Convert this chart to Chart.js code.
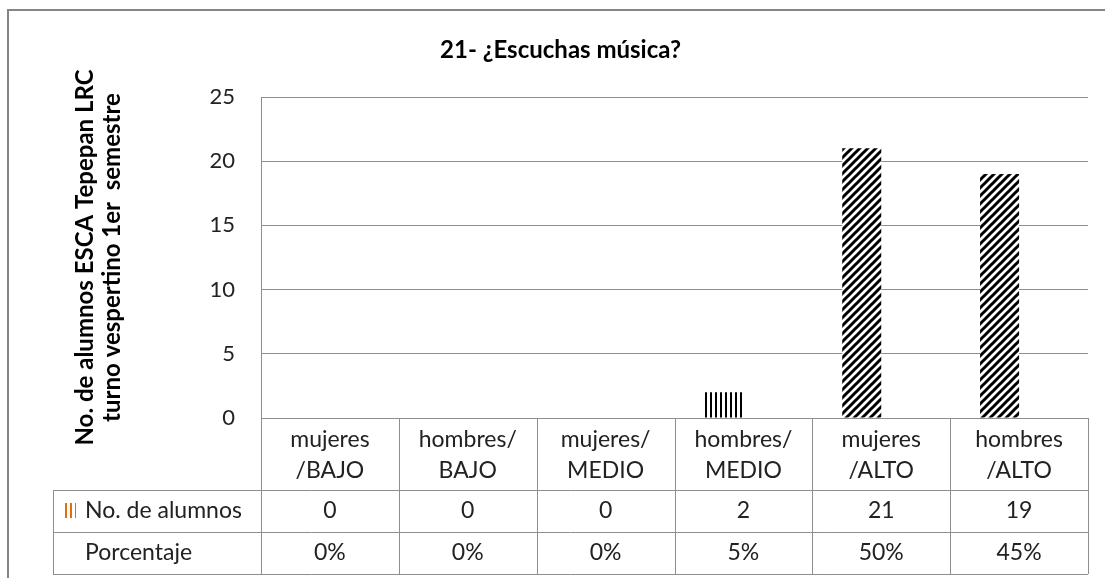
<!DOCTYPE html>
<html lang="es">
<head>
<meta charset="utf-8">
<title>21- ¿Escuchas música?</title>
<script src="https://cdn.jsdelivr.net/npm/chart.js@4.4.1/dist/chart.umd.min.js"></script>
<style>
  html, body { margin: 0; padding: 0; background: #fff; }
  #wrap { width: 1105px; height: 578px; }
</style>
</head>
<body>
<div id="wrap"><canvas id="chart" width="1105" height="578"></canvas></div>
<script>
// ─── Data ─────────────────────────────────────────────────────────────────────
const categories = [['mujeres', '/BAJO'], ['hombres/', 'BAJO'], ['mujeres/', 'MEDIO'], ['hombres/', 'MEDIO'], ['mujeres', '/ALTO'], ['hombres', '/ALTO']];
const alumnos = [0, 0, 0, 2, 21, 19];
const porcentaje = [0, 0, 0, 5, 50, 45];
const yTicks = [0, 5, 10, 15, 20, 25];
const chartTitle = '21- ¿Escuchas música?';
const axisTitle = ['No. de alumnos ESCA Tepepan LRC', 'turno vespertino 1er  semestre'];
const rowLabels = ['No. de alumnos', 'Porcentaje'];

// ─── Styles ───────────────────────────────────────────────────────────────────
const FONT = 'Lato, "Open Sans", sans-serif';
const TEXT = '#222';
const GRID = '#8e8e8e';
const barPatterns = ['vertical', 'vertical', 'vertical', 'vertical', 'diagonal', 'diagonal'];

function makePattern(kind, color) {
    const c = document.createElement('canvas');
    const g = c.getContext('2d');
    if (kind === 'vertical') {
        c.width = 5; c.height = 5;
        g.fillStyle = '#fff'; g.fillRect(0, 0, 5, 5);
        g.fillStyle = color; g.fillRect(0, 0, 2, 5);
    } else {
        c.width = 8; c.height = 8;
        g.fillStyle = '#fff'; g.fillRect(0, 0, 8, 8);
        g.strokeStyle = color; g.lineWidth = 3;
        g.beginPath();
        g.moveTo(-2, 10); g.lineTo(10, -2);
        g.moveTo(-2, 2); g.lineTo(2, -2);
        g.moveTo(6, 10); g.lineTo(10, 6);
        g.stroke();
    }
    return g.createPattern(c, 'repeat');
}

// ─── Plugins ──────────────────────────────────────────────────────────────────
const frame = {
    id: 'frame',
    beforeDraw(chart) {
        const { ctx } = chart;
        ctx.save();
        ctx.strokeStyle = '#858585';
        ctx.lineWidth = 2;
        ctx.beginPath();
        ctx.moveTo(8, chart.height);
        ctx.lineTo(8, 10);
        ctx.lineTo(chart.width, 10);
        ctx.stroke();
        ctx.restore();
    }
};

const dataTable = {
    id: 'dataTable',
    afterDraw(chart) {
        const { ctx, chartArea, scales: { x } } = chart;
        const colW = (chartArea.right - chartArea.left) / categories.length;
        const headTop = chartArea.bottom;
        const headBottom = headTop + 72;
        const rowH = 42;
        const tableBottom = headBottom + rowH * 2;
        const tableLeft = 53;
        const px = v => Math.round(v) + 0.5;

        ctx.save();
        ctx.strokeStyle = GRID;
        ctx.lineWidth = 1;
        ctx.beginPath();
        for (let k = 0; k <= categories.length; k++) {
            const xx = k < categories.length ? x.getPixelForValue(k) - colW / 2 : x.getPixelForValue(k - 1) + colW / 2;
            ctx.moveTo(px(xx), headTop);
            ctx.lineTo(px(xx), tableBottom);
        }
        ctx.moveTo(px(tableLeft), headBottom);
        ctx.lineTo(px(tableLeft), tableBottom);
        [headBottom, headBottom + rowH, tableBottom].forEach(y => {
            ctx.moveTo(tableLeft, px(y));
            ctx.lineTo(chartArea.right, px(y));
        });
        ctx.stroke();

        ctx.font = `23px ${FONT}`;
        ctx.fillStyle = TEXT;
        ctx.textBaseline = 'middle';
        const rows = [alumnos.map(String), porcentaje.map(p => p + '%')];
        rows.forEach((vals, r) => {
            const cy = headBottom + rowH * r + rowH / 2;
            ctx.textAlign = 'center';
            vals.forEach((v, i) => ctx.fillText(v, x.getPixelForValue(i), cy));
            ctx.textAlign = 'left';
            ctx.fillText(rowLabels[r], 85, cy);
        });

        // legend key for the bar series
        ctx.fillStyle = makePattern('vertical', '#E46C0A');
        ctx.fillRect(63, headBottom + 13, 13, 15);
        ctx.restore();
    }
};

// ─── Chart ────────────────────────────────────────────────────────────────────
new Chart(document.getElementById('chart'), {
    type: 'bar',
    data: {
        labels: categories,
        datasets: [
            {
                label: rowLabels[0],
                data: alumnos,
                backgroundColor: barPatterns.map(k => makePattern(k, '#000')),
                borderWidth: 0,
                categoryPercentage: 0.566,
                barPercentage: 1
            },
            {
                label: rowLabels[1],
                data: porcentaje.map(p => p / 100),
                backgroundColor: 'rgba(0,0,0,0)',
                borderWidth: 0,
                categoryPercentage: 0.566,
                barPercentage: 1
            }
        ]
    },
    options: {
        responsive: false,
        animation: false,
        devicePixelRatio: 1,
        layout: { padding: { left: 33, right: 17, top: 0, bottom: 0 } },
        plugins: {
            legend: { display: false },
            tooltip: { enabled: false },
            title: {
                display: true,
                text: chartTitle,
                color: '#000',
                font: { family: FONT, size: 24, weight: 'bold', lineHeight: 1.2 },
                padding: { top: 35.6, bottom: 32.6 }
            }
        },
        scales: {
            x: {
                offset: true,
                grid: { display: false, drawTicks: false },
                border: { display: false },
                ticks: { color: TEXT, font: { family: FONT, size: 23, lineHeight: 1.35 }, padding: 6.5, maxRotation: 0, autoSkip: false },
                afterFit: s => { s.height = 160; }
            },
            y: {
                min: 0,
                max: 25,
                afterBuildTicks: s => { s.ticks = yTicks.map(v => ({ value: v })); },
                ticks: { color: TEXT, font: { family: FONT, size: 22 }, padding: 26 },
                grid: { color: GRID, drawTicks: false },
                border: { display: true, color: GRID },
                title: {
                    display: true,
                    text: axisTitle,
                    color: '#000',
                    font: { family: FONT, size: 24, weight: 'bold', lineHeight: 1.125 },
                    padding: { top: 38.5, bottom: 0 }
                },
                afterFit: s => { s.width = 228; }
            }
        }
    },
    plugins: [frame, dataTable]
});
</script>
</body>
</html>
